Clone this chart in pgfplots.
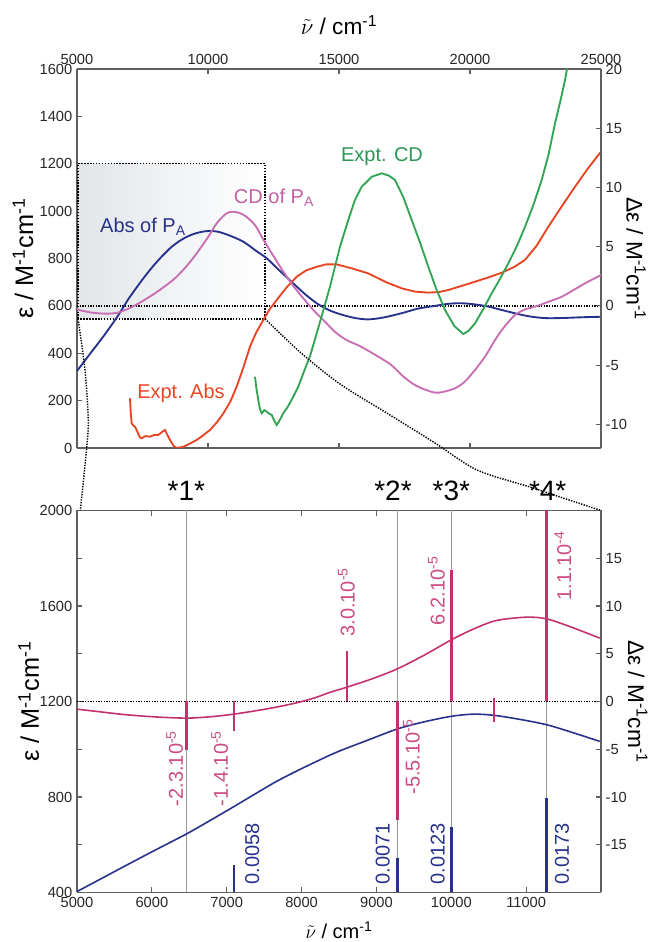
\documentclass[border=0pt]{standalone}
\usepackage{fontspec}
\setmainfont{Liberation Sans}
\usepackage{pgfplots}
\pgfplotsset{compat=1.18}
\definecolor{navy}{RGB}{40,50,140}
\definecolor{orchid}{RGB}{200,110,180}
\definecolor{cdlab}{RGB}{195,95,165}
\definecolor{exred}{RGB}{232,70,35}
\definecolor{exgreen}{RGB}{50,165,85}
\definecolor{exgreenlab}{RGB}{45,150,85}
\definecolor{lmag}{RGB}{195,50,110}
\definecolor{lmaglab}{RGB}{205,75,130}
\definecolor{axgray}{RGB}{95,95,95}
\definecolor{boxgray}{RGB}{226,230,233}
\begin{document}
\begin{tikzpicture}
\useasboundingbox (0,0) rectangle (491.25pt,706.5pt);
\pgfplotsset{
  every axis/.append style={scale only axis, width=393pt, tick align=inside,
    axis line style={line width=1pt, color=axgray},
    every tick/.style={line width=0.8pt, color=axgray},
    major tick length=4pt, minor tick length=4pt,
    scaled x ticks=false, scaled y ticks=false,
    tick label style={font=\fontsize{11}{12}\selectfont, color=black!85},
    /pgf/number format/1000 sep={}, /pgf/number format/assume math mode=true},
}
% ===== TOP, left axis =====
\begin{axis}[at={(57.75pt,370.5pt)}, anchor=south west, height=284.25pt,
  xmin=5000, xmax=25000, ymin=0, ymax=1600,
  axis y line*=left,
  xtick={5000,10000,...,25000}, xticklabel pos=right, xtick pos=both,
  ytick={0,200,...,1600},
  xlabel={$\tilde{\nu}$ / cm\textsuperscript{-1}},
  xlabel style={font=\fontsize{17}{18}\selectfont, at={(axis description cs:0.5,1.115)}, anchor=center},
  ylabel={ε / M\textsuperscript{-1}cm\textsuperscript{-1}},
  ylabel style={font=\fontsize{19}{20}\selectfont, at={(axis description cs:-0.103,0.5)}, anchor=center},
]
\fill[left color=boxgray, right color=white] (axis cs:5040,545) rectangle (axis cs:12180,1200);
\draw[dash pattern=on 1.1pt off 1.1pt, line width=1.1pt] (axis cs:5040,545) rectangle (axis cs:12180,1200);
\draw[dash pattern=on 1pt off 1pt, line width=1pt] (axis cs:5000,600) -- (axis cs:25000,600);
\coordinate (bl) at (axis cs:5040,545);
\coordinate (br) at (axis cs:12180,545);
\addplot[navy, line width=1.4pt, smooth] coordinates {
(5000,325) (5500,398) (6000,470) (6500,548) (6800,600) (7000,635) (7531,716) (8000,780) (8550,843) (9000,880) (9439,903) (9900,915) (10332,914) (10800,898) (11349,871) (11800,835) (12240,801) (12700,752) (13256,695) (13700,650) (14149,611) (14600,583) (15038,565) (15600,549) (16118,543) (16700,551) (17393,569) (18000,588) (18664,600) (19200,609) (19683,611) (20200,606) (20700,597) (21300,580) (21973,562) (22500,552) (22989,548) (23600,549) (24300,552) (25000,554)};
\addplot[exred, line width=1.4pt] coordinates {
(7023,210) (7050,150) (7088,104) (7150,95) (7214,90) (7300,70) (7400,45) (7469,41) (7600,50) (7786,48) (7950,55) (8103,55) (8250,68) (8359,76) (8450,55) (8550,34) (8680,10) (8805,0) (9057,5) (9300,18) (9569,34) (9800,52) (10076,76) (10350,110) (10584,146) (10850,195) (11095,259) (11350,340) (11603,428) (11850,490) (12111,540) (12350,585) (12622,625) (13000,678) (13385,723) (13750,750) (14149,765) (14500,775) (14912,775) (15500,758) (16118,737) (16800,700) (17393,674) (17900,660) (18408,656) (18800,658) (19172,667) (19700,685) (20191,702) (20700,720) (21210,740) (21700,765) (22099,794) (22550,855) (22989,934) (23500,1020) (24008,1103) (24500,1180) (25000,1251)};
\node[navy, font=\fontsize{15}{16}\selectfont] at (axis cs:7519,933) {Abs of P\textsubscript{A}};
\node[cdlab, font=\fontsize{15}{16}\selectfont] at (axis cs:12519,1055) {CD of P\textsubscript{A}};
\node[exred, font=\fontsize{15}{16}\selectfont] at (axis cs:8969,232) {Expt. Abs};
\node[exgreenlab, font=\fontsize{15}{16}\selectfont] at (axis cs:16641,1229) {Expt. CD};
\end{axis}
% ===== TOP, right axis =====
\begin{axis}[at={(57.75pt,370.5pt)}, anchor=south west, height=284.25pt,
  xmin=5000, xmax=25000, ymin=-12, ymax=20,
  axis y line*=right, axis x line=none,
  ytick={-10,-5,...,20},
  ylabel={Δε / M\textsuperscript{-1}cm\textsuperscript{-1}},
  ylabel style={font=\fontsize{17}{18}\selectfont, rotate=180, at={(axis description cs:1.067,0.5)}, anchor=center},
]
\addplot[orchid, line width=1.4pt, smooth] coordinates {
(5000,-0.3) (5500,-0.55) (6000,-0.65) (6500,-0.6) (7000,-0.2) (7500,0.4) (8000,1.1) (8500,1.9) (8805,2.46) (9200,3.4) (9569,4.44) (10000,5.8) (10332,6.97) (10700,7.8) (10966,7.95) (11250,7.8) (11477,7.5) (11800,6.8) (12111,5.6) (12500,4.2) (12874,2.89) (13250,1.7) (13638,0.64) (14000,-0.3) (14401,-1.19) (14850,-2.2) (15300,-2.9) (15800,-3.4) (16500,-4.29) (17000,-5.0) (17393,-5.84) (17800,-6.55) (18156,-6.96) (18664,-7.33) (19000,-7.25) (19427,-6.96) (19800,-6.4) (20191,-5.41) (20600,-4.2) (20954,-2.88) (21300,-1.8) (21718,-0.77) (22100,-0.3) (22481,-0.07) (23000,0.35) (23500,0.77) (24000,1.4) (24389,1.9) (25000,2.6)};
\addplot[exgreen, line width=1.4pt] coordinates {
(11794,-5.98) (11850,-7.0) (11920,-7.95) (11980,-8.7) (12050,-9.07) (12150,-8.8) (12240,-8.93) (12330,-9.1) (12431,-9.21) (12530,-9.7) (12622,-10.06) (12700,-9.8) (12874,-9.07) (13050,-8.5) (13256,-7.67) (13450,-6.8) (13638,-5.69) (13900,-4.2) (14149,-2.32) (14400,-0.4) (14656,1.62) (14847,3.31) (15038,5.0) (15355,7.25) (15600,8.9) (15866,10.06) (16250,10.9) (16630,11.19) (16900,11.0) (17137,10.63) (17450,9.2) (17775,7.25) (18100,5.3) (18408,3.31) (18700,1.5) (19046,-0.35) (19400,-1.7) (19744,-2.38) (19950,-2.1) (20191,-1.48) (20500,-0.3) (20828,1.06) (21150,2.3) (21462,3.59) (21800,5.1) (22099,6.68) (22400,8.4) (22737,10.63) (23000,12.8) (23244,15.41) (23450,17.3) (23626,19.07) (23720,20.2)};
\end{axis}
% ===== LOWER, left axis =====
\begin{axis}[at={(57.75pt,37.125pt)}, anchor=south west, height=286.5pt,
  xmin=5000, xmax=12000, ymin=400, ymax=2000,
  axis y line*=left, xtick pos=both,
  xtick={5000,6000,...,11000},
  ytick={400,800,...,2000}, minor ytick={600,1000,...,1800},
  xlabel={$\tilde{\nu}$ / cm\textsuperscript{-1}},
  xlabel style={font=\fontsize{15}{16}\selectfont, at={(axis description cs:0.5,-0.1)}, anchor=center},
  ylabel={ε / M\textsuperscript{-1}cm\textsuperscript{-1}},
  ylabel style={font=\fontsize{19}{20}\selectfont, at={(axis description cs:-0.092,0.5)}, anchor=center},
]
\draw[black!40, line width=0.6pt] (axis cs:6461,400) -- (axis cs:6461,2000);
\draw[black!40, line width=0.6pt] (axis cs:9280,400) -- (axis cs:9280,2000);
\draw[black!40, line width=0.6pt] (axis cs:10001,400) -- (axis cs:10001,2000);
\draw[black!40, line width=0.6pt] (axis cs:11270,400) -- (axis cs:11270,2000);
\draw[dash pattern=on 1pt off 1pt, line width=1pt] (axis cs:5000,1200) -- (axis cs:12000,1200);
\coordinate (ltl) at (rel axis cs:0,1);
\coordinate (ltr) at (rel axis cs:1,1);
\coordinate (s1) at (axis cs:6461,2000);
\coordinate (s2) at (axis cs:9280,2000);
\coordinate (s3) at (axis cs:10001,2000);
\coordinate (s4) at (axis cs:11270,2000);
\addplot[navy, line width=1.2pt, smooth] coordinates {
(5000,404) (5330,459) (5659,514) (6060,580) (6461,645) (6780,702) (7097,760) (7380,813) (7664,865) (7975,915) (8376,975) (8509,993) (8900,1040) (9280,1085) (9640,1115) (10001,1138) (10300,1147) (10571,1142) (10900,1126) (11270,1103) (11600,1072) (11983,1033)};
\addplot[navy, line width=1.1pt, unbounded coords=jump] coordinates {(7097,400) (7097,516)};
\addplot[navy, line width=2.3pt, unbounded coords=jump] coordinates {
(9280,400) (9280,544) (9280,nan) (10001,400) (10001,676) (10001,nan) (11270,400) (11270,795)};
\node[navy, rotate=90, font=\fontsize{15}{16}\selectfont] at (axis cs:7340,563) {0.0058};
\node[navy, rotate=90, font=\fontsize{15}{16}\selectfont] at (axis cs:9084,563) {0.0071};
\node[navy, rotate=90, font=\fontsize{15}{16}\selectfont] at (axis cs:9819,563) {0.0123};
\node[navy, rotate=90, font=\fontsize{15}{16}\selectfont] at (axis cs:11480,563) {0.0173};
\end{axis}
% ===== LOWER, right axis =====
\begin{axis}[at={(57.75pt,37.125pt)}, anchor=south west, height=286.5pt,
  xmin=5000, xmax=12000, ymin=-20, ymax=20,
  axis y line*=right, axis x line=none,
  ytick={-15,-10,...,15},
  ylabel={Δε / M\textsuperscript{-1}cm\textsuperscript{-1}},
  ylabel style={font=\fontsize{17}{18}\selectfont, rotate=180, at={(axis description cs:1.07,0.5)}, anchor=center},
]
\addplot[lmag, line width=1.2pt, smooth] coordinates {
(5000,-0.8) (5330,-1.1) (5659,-1.39) (6060,-1.62) (6461,-1.74) (6780,-1.6) (7097,-1.32) (7380,-0.98) (7664,-0.59) (7975,-0.06) (8200,0.45) (8376,0.95) (8607,1.5) (8950,2.4) (9280,3.42) (9650,4.9) (10001,6.46) (10300,7.6) (10602,8.48) (11003,8.83) (11270,8.66) (11582,7.85) (11983,6.64)};
\addplot[lmag, line width=1.1pt, unbounded coords=jump] coordinates {
(7097,0) (7097,-3.14) (7097,nan) (8607,0) (8607,5.24) (8607,nan) (10571,0.4) (10571,-2.1)};
\addplot[lmag, line width=2.3pt, unbounded coords=jump] coordinates {
(6461,0) (6461,-5.06) (6461,nan) (9280,0) (9280,-12.4) (9280,nan) (10001,0) (10001,13.8) (10001,nan) (11270,0) (11270,20.5)};
\node[lmaglab, rotate=90, font=\fontsize{15}{16}\selectfont] at (axis cs:6305,-7.0) {-2.3.10\textsuperscript{-5}};
\node[lmaglab, rotate=90, font=\fontsize{15}{16}\selectfont] at (axis cs:6906,-7.0) {-1.4.10\textsuperscript{-5}};
\node[lmaglab, rotate=90, font=\fontsize{15}{16}\selectfont] at (axis cs:8600,10.4) {3.0.10\textsuperscript{-5}};
\node[lmaglab, rotate=90, font=\fontsize{15}{16}\selectfont] at (axis cs:9467,-5.8) {-5.5.10\textsuperscript{-5}};
\node[lmaglab, rotate=90, font=\fontsize{15}{16}\selectfont] at (axis cs:9801,11.6) {6.2.10\textsuperscript{-5}};
\node[lmaglab, rotate=90, font=\fontsize{15}{16}\selectfont] at (axis cs:11492,14.2) {1.1.10\textsuperscript{-4}};
\end{axis}
% ===== connectors and labels =====
\draw[dash pattern=on 1pt off 1pt, line width=1.1pt] plot[smooth] coordinates {(bl) (63.75pt,429pt) (66.2pt,391.5pt) (65pt,370.5pt) ([xshift=2.5pt]ltl)};
\draw[dash pattern=on 1pt off 1pt, line width=1.1pt] plot[smooth] coordinates {(br) (225pt,442.5pt) (255pt,418.5pt) (292.5pt,395.25pt) (326.25pt,374.25pt) (357.75pt,354pt) (397.5pt,341.25pt) (422.25pt,333pt) (ltr)};
\node[font=\fontsize{21}{22}\selectfont] at ([yshift=15pt]s1) {*1*};
\node[font=\fontsize{21}{22}\selectfont] at ([yshift=15pt,xshift=-3.3pt]s2) {*2*};
\node[font=\fontsize{21}{22}\selectfont] at ([yshift=15pt]s3) {*3*};
\node[font=\fontsize{21}{22}\selectfont] at ([yshift=15pt,xshift=1pt]s4) {*4*};
\end{tikzpicture}
\end{document}
